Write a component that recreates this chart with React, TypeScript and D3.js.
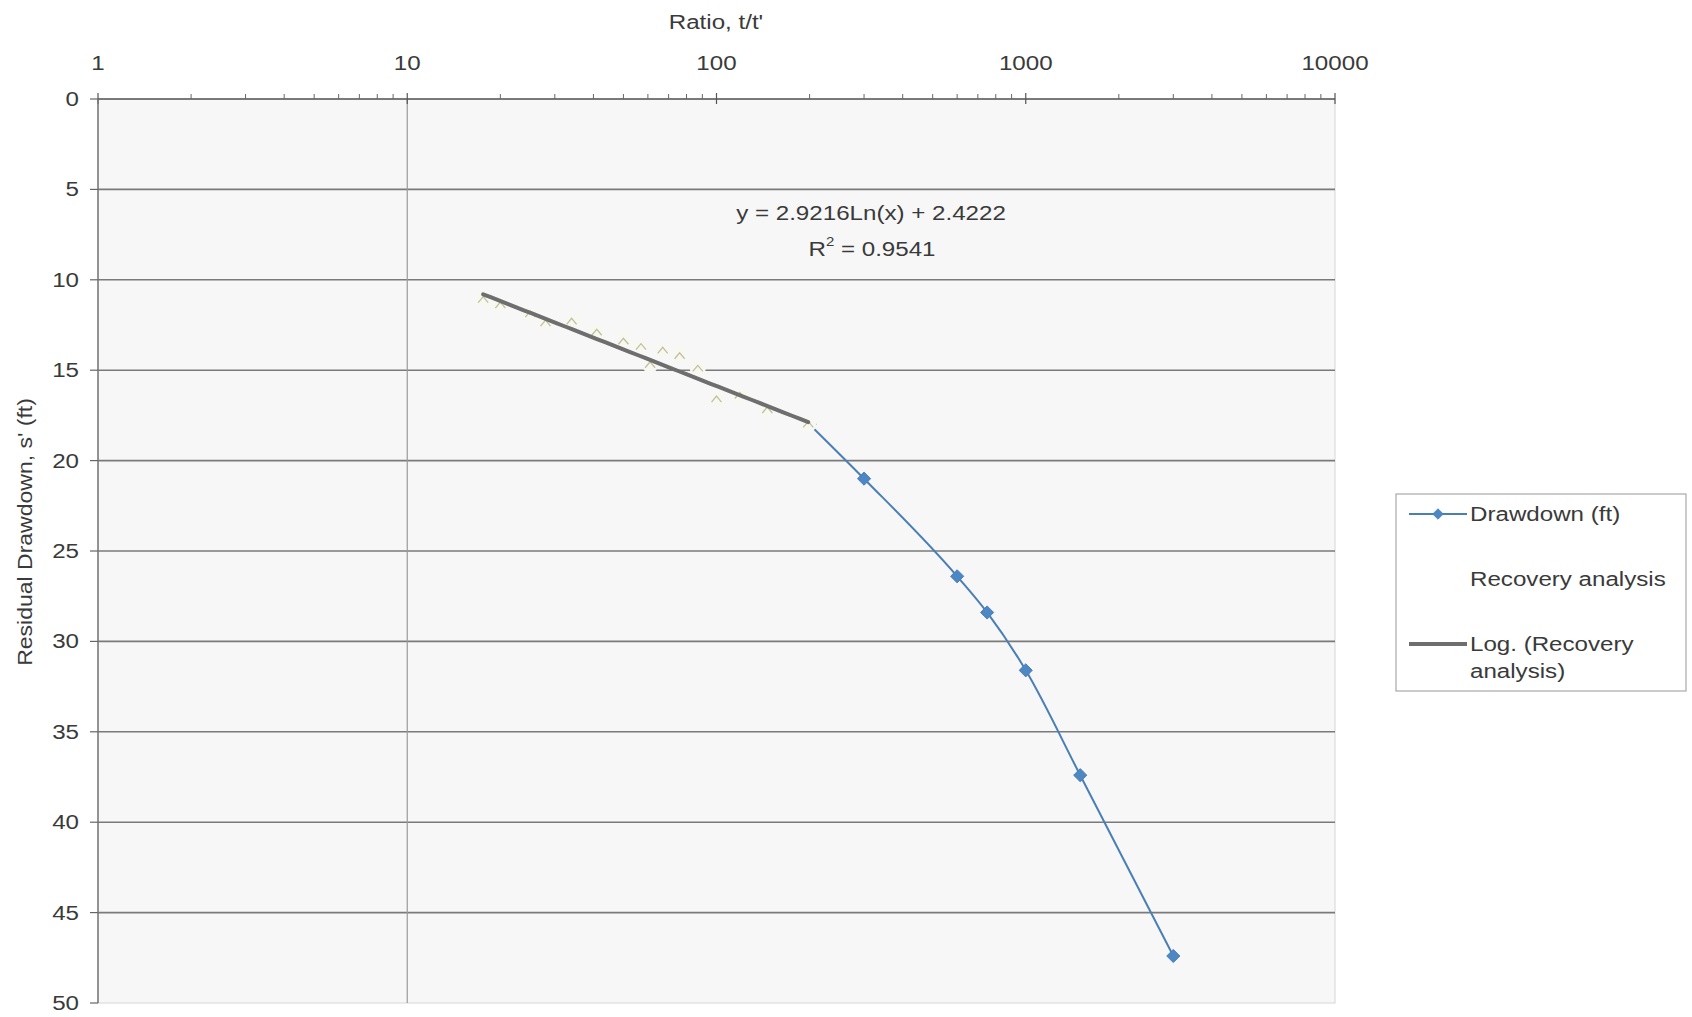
import React from "react";
import * as d3 from "d3";

const xTicks = [1, 10, 100, 1000, 10000];
const yTicks = [0, 5, 10, 15, 20, 25, 30, 35, 40, 45, 50];

// Drawdown (ft) series: ratio t/t' and residual drawdown s'
const drawRatio = [200, 300, 600, 750, 1000, 1500, 3000];
const drawS = [18.0, 21.0, 26.4, 28.4, 31.6, 37.4, 47.4];

// Recovery analysis series
const recRatio = [17.6, 20, 25, 28, 34, 41, 50, 57, 61, 67, 76, 87, 100, 119, 146, 198];
const recS = [11.1, 11.4, 11.9, 12.4, 12.3, 12.9, 13.4, 13.7, 14.7, 13.9, 14.2, 14.9, 16.6, 16.4, 17.2, 18.0];

const trendA = 2.9216;
const trendB = 2.4222;
const equationText = "y = 2.9216Ln(x) + 2.4222";
const r2Text = " = 0.9541";

const FONT = "'Liberation Sans', Arial, sans-serif";
const TXT = "#3a3a3a";
const SX = 1.15;

function T({ x, y, anchor = "middle", size = 21, rotate = 0, children }: any) {
  return (
    <text
      transform={`translate(${x},${y})${rotate ? ` rotate(${rotate})` : ""} scale(${SX},1)`}
      textAnchor={anchor}
      dominantBaseline="central"
      fontSize={size}
      fontFamily={FONT}
      fill={TXT}
    >
      {children}
    </text>
  );
}

export default function App() {
  const W = 1692, H = 1017;
  const left = 98, right = 1335, top = 99, bottom = 1003;
  const x = d3.scaleLog().domain([1, 10000]).range([left, right]);
  const y = d3.scaleLinear().domain([0, 50]).range([top, bottom]);

  const minor: number[] = [];
  for (let d = 1; d < 10000; d *= 10) for (let k = 2; k <= 9; k++) minor.push(d * k);

  const drawPts = drawRatio.map((r, i) => [x(r), y(drawS[i])] as [number, number]);
  const drawLine = d3.line().curve(d3.curveMonotoneX)(drawPts) || "";

  const recPts = recRatio.map((r, i) => [x(r), y(recS[i])] as [number, number]);

  const tMin = d3.min(recRatio) as number;
  const tMax = d3.max(recRatio) as number;
  const trendPts = d3.range(0, 41).map((i) => {
    const r = tMin * Math.pow(tMax / tMin, i / 40);
    return [x(r), y(trendA * Math.log(r) + trendB)] as [number, number];
  });
  const trendLine = d3.line()(trendPts) || "";

  const diamond = d3.symbol().type(d3.symbolDiamond2).size(110)() || "";
  const caret = d3.line()([[-5, 3], [0, -3], [5, 3]]) || "";

  const blue = "#4a7fb5";
  const blueMarker = "#4d88c4";
  const trendCol = "#6e6e6e";
  const gridCol = "#7a7a7a";

  const legX = 1396, legY = 494, legW = 290, legH = 197;

  return (
    <svg width={W} height={H} style={{ position: "absolute", left: 0, top: 0, background: "#fff" }}>
      {/* plot area */}
      <rect x={left} y={top} width={right - left} height={bottom - top} fill="#f7f7f7" stroke="#d6d6d6" strokeWidth={1} />

      {/* horizontal gridlines */}
      {yTicks.filter((t) => t > 0 && t < 50).map((t) => (
        <line key={"g" + t} x1={left} x2={right} y1={y(t)} y2={y(t)} stroke={gridCol} strokeWidth={1.6} />
      ))}
      {/* vertical line at 10 */}
      <line x1={x(10)} x2={x(10)} y1={top} y2={bottom} stroke="#9a9a9a" strokeWidth={1.2} />

      {/* top axis */}
      <line x1={left} x2={right} y1={top} y2={top} stroke="#555" strokeWidth={1.6} />
      {minor.map((m) => (
        <line key={"m" + m} x1={x(m)} x2={x(m)} y1={top - 5} y2={top} stroke="#666" strokeWidth={1} />
      ))}
      {xTicks.map((t) => (
        <g key={"x" + t}>
          <line x1={x(t)} x2={x(t)} y1={top - 6} y2={top + 5} stroke="#555" strokeWidth={1.2} />
          <T x={x(t)} y={63}>{t}</T>
        </g>
      ))}

      {/* left axis */}
      <line x1={left} x2={left} y1={top} y2={bottom} stroke="#777" strokeWidth={1.5} />
      {yTicks.map((t) => (
        <g key={"y" + t}>
          <line x1={left - 8} x2={left} y1={y(t)} y2={y(t)} stroke="#666" strokeWidth={1.2} />
          <T x={79} y={y(t)} anchor="end">{t}</T>
        </g>
      ))}

      {/* axis titles */}
      <T x={716} y={22}>Ratio, t/t'</T>
      <T x={25} y={532} rotate={-90} size={20}>Residual Drawdown, s' (ft)</T>

      {/* drawdown series */}
      <path d={drawLine} fill="none" stroke={blue} strokeWidth={2} />
      {drawPts.map(([px, py], i) => (
        <path key={"d" + i} d={diamond} transform={`translate(${px},${py})`} fill={blueMarker} stroke={blue} strokeWidth={1} />
      ))}

      {/* recovery analysis markers (pale fill, faint caret outline) */}
      {recPts.map(([px, py], i) => (
        <g key={"r" + i} transform={`translate(${px},${py})`}>
          <circle r={8} fill="#f8f8f3" />
          <path d={caret} fill="none" stroke="#c2bf9c" strokeWidth={1.3} />
        </g>
      ))}

      {/* log trendline */}
      <path d={trendLine} fill="none" stroke={trendCol} strokeWidth={4} strokeLinecap="round" />

      {/* equation */}
      <T x={871} y={213}>{equationText}</T>
      <text transform={`translate(872,249) scale(${SX},1)`} textAnchor="middle" dominantBaseline="central" fontSize={21} fontFamily={FONT} fill={TXT}>
        R<tspan fontSize={13} dy={-8}>2</tspan><tspan dy={8}>{r2Text}</tspan>
      </text>

      {/* legend */}
      <rect x={legX} y={legY} width={legW} height={legH} fill="#fff" stroke="#a8a8a8" strokeWidth={1.2} />
      <line x1={1409} x2={1467} y1={514} y2={514} stroke={blue} strokeWidth={2} />
      <path d={diamond} transform="translate(1438,514) scale(0.8)" fill={blueMarker} stroke={blue} />
      <T x={1470} y={514} anchor="start">Drawdown (ft)</T>
      <T x={1470} y={579} anchor="start">Recovery analysis</T>
      <line x1={1409} x2={1467} y1={644} y2={644} stroke={trendCol} strokeWidth={4} />
      <T x={1470} y={644} anchor="start">Log. (Recovery</T>
      <T x={1470} y={671} anchor="start">analysis)</T>
    </svg>
  );
}
